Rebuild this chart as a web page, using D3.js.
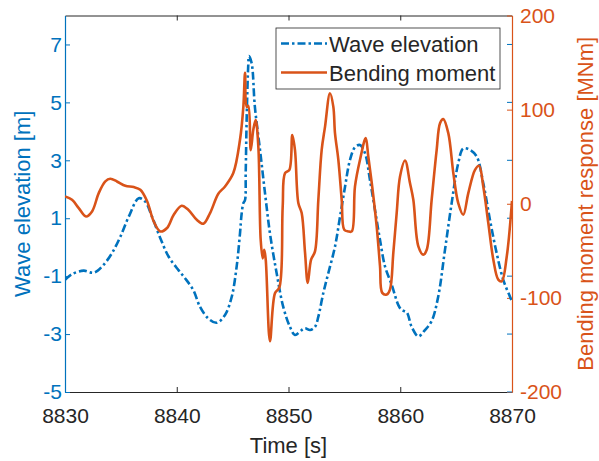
<!DOCTYPE html>
<html>
<head>
<meta charset="utf-8">
<script src="https://cdn.jsdelivr.net/npm/d3@7"></script>
<style>
  html, body { margin: 0; padding: 0; background: #fff; }
  svg { display: block; font-family: "Liberation Sans", Arial, Helvetica, sans-serif; }
</style>
</head>
<body>
<svg id="chart" width="599" height="461"></svg>
<script>
// Wave elevation time series [s, m]
const waveTime = [8830.00, 8830.63, 8831.67, 8832.57, 8833.31, 8834.21, 8834.95, 8835.70, 8836.60, 8837.19,
  8837.79, 8838.53, 8839.28, 8840.17, 8840.74, 8841.48, 8842.08, 8842.82, 8843.58, 8844.32,
  8844.92, 8845.36, 8845.66, 8845.81, 8845.96, 8846.11, 8846.17, 8846.26, 8846.40, 8846.46,
  8846.70, 8846.99, 8847.45, 8847.90, 8848.34, 8848.94, 8849.53, 8850.13, 8850.58, 8851.18,
  8851.48, 8851.92, 8852.37, 8852.67, 8853.11, 8853.56, 8854.16, 8854.61, 8855.06, 8855.50,
  8855.95, 8856.40, 8856.85, 8857.29, 8857.74, 8858.19, 8858.64, 8859.24, 8859.83, 8860.13,
  8860.58, 8861.02, 8861.62, 8862.21, 8862.81, 8863.40, 8864.00, 8864.60, 8865.19, 8865.64,
  8866.24, 8866.84, 8867.43, 8868.03, 8868.63, 8869.22, 8869.82, 8870.00];
const waveElevation = [-1.13, -0.93, -0.81, -0.88, -0.67, -0.20, 0.36, 1.05, 1.69, 1.57,
  1.05, 0.31, -0.33, -0.80, -1.07, -1.48, -2.06, -2.46, -2.61, -2.34,
  -1.71, -0.67, 0.48, 1.17, 1.52, 1.63, 2.56, 4.50, 6.30, 6.60,
  6.36, 4.85, 3.36, 1.86, 0.48, -0.90, -2.06, -2.75, -3.03, -2.86,
  -2.80, -2.86, -2.75, -2.40, -1.59, -0.90, 0.02, 1.05, 2.09, 3.01,
  3.45, 3.53, 3.24, 2.32, 1.28, 0.25, -0.67, -1.30, -2.00, -2.17,
  -2.25, -2.75, -3.08, -2.86, -2.55, -1.70, -0.10, 1.52, 2.90, 3.41,
  3.36, 3.13, 2.21, 0.94, -0.21, -1.13, -1.71, -1.88];

// Bending moment response time series [s, MNm]
const momentTime = [8830.00, 8830.63, 8831.23, 8831.88, 8832.42, 8833.02, 8833.61, 8834.05, 8834.65, 8835.40,
  8836.15, 8836.74, 8837.34, 8837.94, 8838.53, 8839.13, 8839.73, 8840.44, 8841.03, 8841.79,
  8842.38, 8842.98, 8843.72, 8844.32, 8845.06, 8845.66, 8845.96, 8846.11, 8846.26, 8846.40,
  8846.62, 8846.85, 8847.06, 8847.30, 8847.51, 8847.69, 8847.83, 8847.96, 8848.34, 8848.79,
  8849.18, 8849.48, 8849.69, 8850.08, 8850.34, 8850.58, 8850.88, 8851.18, 8851.48, 8851.72,
  8852.02, 8852.37, 8852.67, 8852.97, 8853.27, 8853.71, 8854.01, 8854.16, 8854.46, 8854.76,
  8854.99, 8855.35, 8855.66, 8855.95, 8856.40, 8856.91, 8857.14, 8857.45, 8857.89, 8858.19,
  8858.39, 8858.79, 8859.08, 8859.38, 8859.68, 8859.98, 8860.43, 8860.87, 8861.17, 8861.62,
  8862.06, 8862.37, 8862.81, 8863.26, 8863.56, 8863.85, 8864.30, 8864.75, 8865.19, 8865.64,
  8866.09, 8866.69, 8867.05, 8867.43, 8867.88, 8868.33, 8868.77, 8869.08, 8869.53, 8870.00];
const bendingMoment = [7.8, 4.2, -4.6, -13.5, -8.2, 11.3, 23.7, 26.5, 23.7, 19.1,
  17.7, 14.9, 3.0, -18.8, -29.4, -25.8, -11.7, -2.1, -6.4, -17.0,
  -21.2, -9.9, 10.6, 18.4, 32.6, 68.0, 103.0, 139.0, 103.0, 104.0,
  57.0, 78.5, 89.0, 61.0, -38.0, -58.0, -49.0, -59.0, -146.0, -95.0,
  -89.0, -3.0, 32.6, 36.0, 73.0, 57.0, 0.7, -9.9, -52.0, -84.1,
  -59.4, -50.6, 4.2, 57.3, 82.0, 117.4, 103.2, 75.0, 46.7, 4.2,
  -27.6, -29.4, -29.4, 18.4, 46.7, 69.7, 50.2, 22.0, -24.0, -66.5,
  -94.7, -96.5, -91.2, -52.3, -9.9, 29.0, 46.0, 22.0, 4.2, -45.3,
  -54.1, -48.8, 4.2, 57.3, 85.6, 89.9, 75.0, 32.6, 0.7, -11.7,
  11.3, 36.0, 40.3, 18.4, -20.5, -59.4, -80.6, -82.4, -56.0, 3.0];

// Axis ticks
const timeTicks = [8830, 8840, 8850, 8860, 8870];
const elevationTicks = [-5, -3, -1, 1, 3, 5, 7];
const momentTicks = [-200, -100, 0, 100, 200];

// Series labels
const seriesNames = ["Wave elevation", "Bending moment"];

const BLUE = "#0072BD";
const ORANGE = "#D95319";
const DARK = "#262626";

const plotLeft = 65, plotRight = 512, plotTop = 15.5, plotBottom = 392;

const svg = d3.select("#chart");

const x = d3.scaleLinear().domain([8830, 8870]).range([plotLeft, plotRight]);
const yL = d3.scaleLinear().domain([-5, 8]).range([plotBottom, plotTop]);
const yR = d3.scaleLinear().domain([-200, 200]).range([plotBottom, plotTop]);

const fmt = d => String(d);

svg.append("defs").append("clipPath").attr("id", "plotClip")
  .append("rect").attr("x", plotLeft).attr("y", plotTop - 2)
  .attr("width", plotRight - plotLeft).attr("height", plotBottom - plotTop + 4);

// Bottom axis
const gx = svg.append("g").attr("transform", `translate(0,${plotBottom})`)
  .call(d3.axisBottom(x).tickValues(timeTicks).tickFormat(fmt)
    .tickSizeInner(-5).tickSizeOuter(0).tickPadding(16.5));
gx.select(".domain").attr("stroke", DARK).attr("stroke-width", 1);
gx.selectAll(".tick line").attr("stroke", DARK)
  .attr("display", d => (d === 8830 || d === 8870) ? "none" : null);
gx.selectAll(".tick text").attr("fill", DARK).attr("font-size", 21);

// Top axis (ticks only)
const gt = svg.append("g").attr("transform", `translate(0,${plotTop})`)
  .call(d3.axisTop(x).tickValues(timeTicks).tickFormat("")
    .tickSizeInner(-5).tickSizeOuter(0));
gt.select(".domain").attr("stroke", DARK).attr("stroke-width", 1);
gt.selectAll(".tick line").attr("stroke", DARK)
  .attr("display", d => (d === 8830 || d === 8870) ? "none" : null);

// Left axis: wave elevation
const gl = svg.append("g").attr("transform", `translate(${plotLeft},0)`)
  .call(d3.axisLeft(yL).tickValues(elevationTicks).tickFormat(fmt)
    .tickSizeInner(-5).tickSizeOuter(0).tickPadding(3));
gl.select(".domain").attr("stroke", BLUE).attr("stroke-width", 1.2);
gl.selectAll(".tick line").attr("stroke", BLUE);
gl.selectAll(".tick text").attr("fill", BLUE).attr("font-size", 21);

// Right axis: bending moment
const gr = svg.append("g").attr("transform", `translate(${plotRight},0)`)
  .call(d3.axisRight(yR).tickValues(momentTicks).tickFormat(fmt)
    .tickSizeInner(-5).tickSizeOuter(0).tickPadding(8));
gr.select(".domain").attr("stroke", ORANGE).attr("stroke-width", 1.2);
gr.selectAll(".tick line").attr("stroke", ORANGE);
gr.selectAll(".tick text").attr("fill", ORANGE).attr("font-size", 21);

// Elevation ticks repeated on the right edge
svg.append("g").selectAll("line").data(elevationTicks).join("line")
  .attr("x1", plotRight).attr("x2", plotRight - 5)
  .attr("y1", d => yL(d)).attr("y2", d => yL(d))
  .attr("stroke", BLUE).attr("stroke-width", 1);

// Series
const waveData = waveTime.map((t, i) => [t, waveElevation[i]]);
const momentData = momentTime.map((t, i) => [t, bendingMoment[i]]);

const plot = svg.append("g").attr("clip-path", "url(#plotClip)");

plot.append("path").datum(waveData)
  .attr("fill", "none").attr("stroke", BLUE).attr("stroke-width", 2.6)
  .attr("stroke-dasharray", "8,3,2.5,3")
  .attr("stroke-linejoin", "round")
  .attr("d", d3.line().x(d => x(d[0])).y(d => yL(d[1])).curve(d3.curveCatmullRom.alpha(0.5)));

plot.append("path").datum(momentData)
  .attr("fill", "none").attr("stroke", ORANGE).attr("stroke-width", 2.6)
  .attr("stroke-linejoin", "round")
  .attr("d", d3.line().x(d => x(d[0])).y(d => yR(d[1])).curve(d3.curveCatmullRom.alpha(0.5)));

// Axis titles
svg.append("text").attr("x", (plotLeft + plotRight) / 2).attr("y", 452.5)
  .attr("text-anchor", "middle").attr("font-size", 22).attr("fill", DARK)
  .text("Time [s]");

svg.append("text")
  .attr("transform", `translate(30,${(plotTop + plotBottom) / 2}) rotate(-90)`)
  .attr("text-anchor", "middle").attr("font-size", 22).attr("fill", BLUE)
  .text("Wave elevation [m]");

svg.append("text")
  .attr("transform", `translate(593,${(plotTop + plotBottom) / 2}) rotate(-90)`)
  .attr("text-anchor", "middle").attr("font-size", 22).attr("fill", ORANGE)
  .text("Bending moment response [MNm]");

// Legend
const legend = svg.append("g");
legend.append("rect").attr("x", 276).attr("y", 28).attr("width", 224).attr("height", 61)
  .attr("fill", "#fff").attr("stroke", DARK).attr("stroke-width", 0.8);
const legendRows = [
  { name: seriesNames[0], color: BLUE, dash: "8,3,2.5,3", y: 43.5 },
  { name: seriesNames[1], color: ORANGE, dash: null, y: 72.5 }
];
legendRows.forEach(r => {
  legend.append("line").attr("x1", 281).attr("x2", 327).attr("y1", r.y).attr("y2", r.y)
    .attr("stroke", r.color).attr("stroke-width", 2.6).attr("stroke-dasharray", r.dash);
  legend.append("text").attr("x", 329).attr("y", r.y + 8.5)
    .attr("font-size", 22).attr("fill", DARK).text(r.name);
});
</script>
</body>
</html>
